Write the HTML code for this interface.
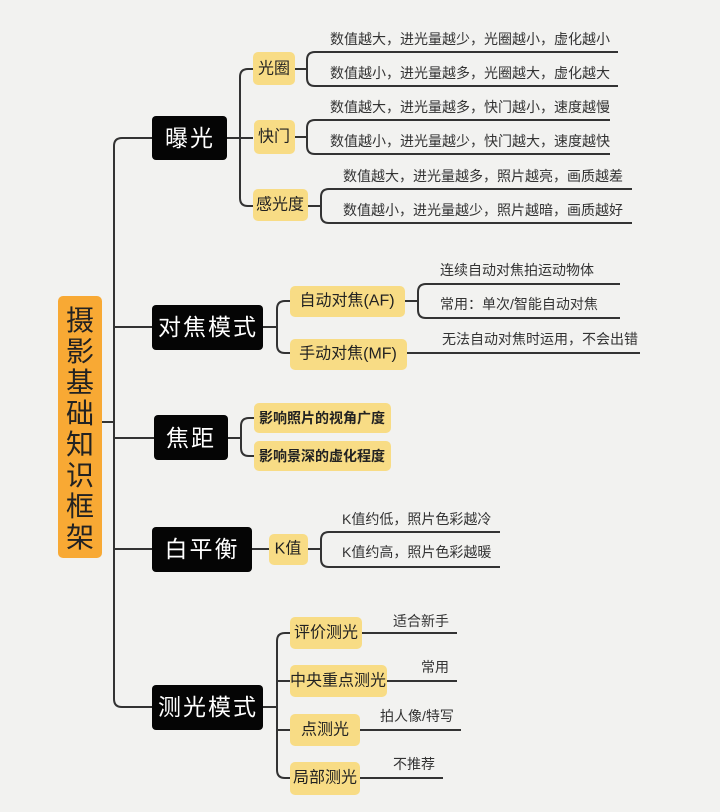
<!DOCTYPE html>
<html><head><meta charset="utf-8"><style>
html,body{margin:0;padding:0;background:#f2f2f0;}
svg{display:block;font-family:"Liberation Sans","Noto Sans CJK SC",sans-serif;}
.l{fill:none;stroke:#333;stroke-width:2;}
.t{font-size:14px;fill:#333;}
.y{fill:#f8dc85;}
.yt{font-size:16px;fill:#222;text-anchor:middle;dominant-baseline:central;}
.b{fill:#050505;}
.bt{font-size:23px;fill:#fff;text-anchor:middle;dominant-baseline:central;letter-spacing:2px;}
</style></head><body>
<svg width="720" height="812" viewBox="0 0 720 812">
<rect width="720" height="812" fill="#f2f2f0"/>
<rect x="58" y="296" width="44" height="262" rx="5" fill="#f8a934"/>
<text font-size="28" fill="#222" text-anchor="middle">
<tspan x="80" y="330">摄</tspan><tspan x="80" y="361">影</tspan><tspan x="80" y="392">基</tspan><tspan x="80" y="423">础</tspan><tspan x="80" y="454">知</tspan><tspan x="80" y="485">识</tspan><tspan x="80" y="516">框</tspan><tspan x="80" y="547">架</tspan></text>
<path class="l" d="M102 422 H114"/>
<path class="l" d="M152 138 H122 Q114 138 114 146 V699 Q114 707 122 707 H152"/>
<path class="l" d="M114 327 H152 M114 438 H154 M114 549 H152"/>
<rect class="b" x="152" y="116" width="75" height="44" rx="4"/><text class="bt" x="190" y="138">曝光</text>
<rect class="b" x="152" y="305" width="111" height="45" rx="4"/><text class="bt" x="208" y="327">对焦模式</text>
<rect class="b" x="154" y="415" width="74" height="45" rx="4"/><text class="bt" x="191" y="438">焦距</text>
<rect class="b" x="152" y="527" width="100" height="45" rx="4"/><text class="bt" x="202" y="549">白平衡</text>
<rect class="b" x="152" y="685" width="111" height="45" rx="4"/><text class="bt" x="208" y="707">测光模式</text>
<path class="l" d="M227 138 H253 M253 69 H248 Q240 69 240 77 V198 Q240 206 248 206 H253"/>
<rect class="y" x="253" y="52" width="42" height="33" rx="5"/><text class="yt" x="274" y="69">光圈</text>
<rect class="y" x="254" y="120" width="41" height="34" rx="5"/><text class="yt" x="274" y="137">快门</text>
<rect class="y" x="253" y="189" width="55" height="32" rx="5"/><text class="yt" x="280" y="205">感光度</text>
<path class="l" d="M295 69 H307 M618 52 H315 Q307 52 307 60 V78 Q307 86 315 86 H618"/>
<path class="l" d="M295 137 H307 M610 120 H315 Q307 120 307 128 V146 Q307 154 315 154 H610"/>
<path class="l" d="M308 206 H321 M632 189 H329 Q321 189 321 197 V215 Q321 223 329 223 H632"/>
<text class="t" x="330" y="44">数值越大，进光量越少，光圈越小，虚化越小</text>
<text class="t" x="330" y="78">数值越小，进光量越多，光圈越大，虚化越大</text>
<text class="t" x="330" y="112">数值越大，进光量越多，快门越小，速度越慢</text>
<text class="t" x="330" y="146">数值越小，进光量越少，快门越大，速度越快</text>
<text class="t" x="343" y="181">数值越大，进光量越多，照片越亮，画质越差</text>
<text class="t" x="343" y="215">数值越小，进光量越少，照片越暗，画质越好</text>
<path class="l" d="M263 327 H277 M290 301 H285 Q277 301 277 309 V345 Q277 353 285 353 H290"/>
<rect class="y" x="290" y="286" width="115" height="31" rx="5"/><text class="yt" x="347" y="301">自动对焦(AF)</text>
<rect class="y" x="290" y="339" width="117" height="31" rx="5"/><text class="yt" x="348" y="354">手动对焦(MF)</text>
<path class="l" d="M405 301 H418 M620 284 H426 Q418 284 418 292 V310 Q418 318 426 318 H620"/>
<path class="l" d="M407 353 H640"/>
<text class="t" x="440" y="275">连续自动对焦拍运动物体</text>
<text class="t" x="440" y="309">常用：单次/智能自动对焦</text>
<text class="t" x="442" y="344">无法自动对焦时运用，不会出错</text>
<path class="l" d="M228 438 H241 M254 418 H249 Q241 418 241 426 V448 Q241 456 249 456 H254"/>
<rect class="y" x="254" y="403" width="137" height="30" rx="5"/><text class="yt" x="322" y="418" style="font-size:14px;font-weight:bold">影响照片的视角广度</text>
<rect class="y" x="254" y="441" width="137" height="30" rx="5"/><text class="yt" x="322" y="456" style="font-size:14px;font-weight:bold">影响景深的虚化程度</text>
<path class="l" d="M252 549 H269"/>
<rect class="y" x="269" y="534" width="39" height="31" rx="5"/><text class="yt" x="288" y="549">K值</text>
<path class="l" d="M308 549 H321 M500 532 H329 Q321 532 321 540 V559 Q321 567 329 567 H500"/>
<text class="t" x="342" y="524">K值约低，照片色彩越冷</text>
<text class="t" x="342" y="557">K值约高，照片色彩越暖</text>
<path class="l" d="M263 707 H277 M290 633 H285 Q277 633 277 641 V770 Q277 778 285 778 H290 M277 681 H290 M277 730 H290"/>
<rect class="y" x="290" y="617" width="72" height="32" rx="5"/><text class="yt" x="326" y="633">评价测光</text>
<rect class="y" x="290" y="665" width="97" height="32" rx="5"/><text class="yt" x="338" y="681">中央重点测光</text>
<rect class="y" x="290" y="714" width="70" height="32" rx="5"/><text class="yt" x="325" y="730">点测光</text>
<rect class="y" x="290" y="762" width="70" height="33" rx="5"/><text class="yt" x="325" y="778">局部测光</text>
<path class="l" d="M362 633 H457 M387 681 H457 M360 730 H461 M360 778 H443"/>
<text class="t" x="393" y="626">适合新手</text>
<text class="t" x="421" y="672">常用</text>
<text class="t" x="380" y="721">拍人像/特写</text>
<text class="t" x="393" y="769">不推荐</text>
</svg>
</body></html>
